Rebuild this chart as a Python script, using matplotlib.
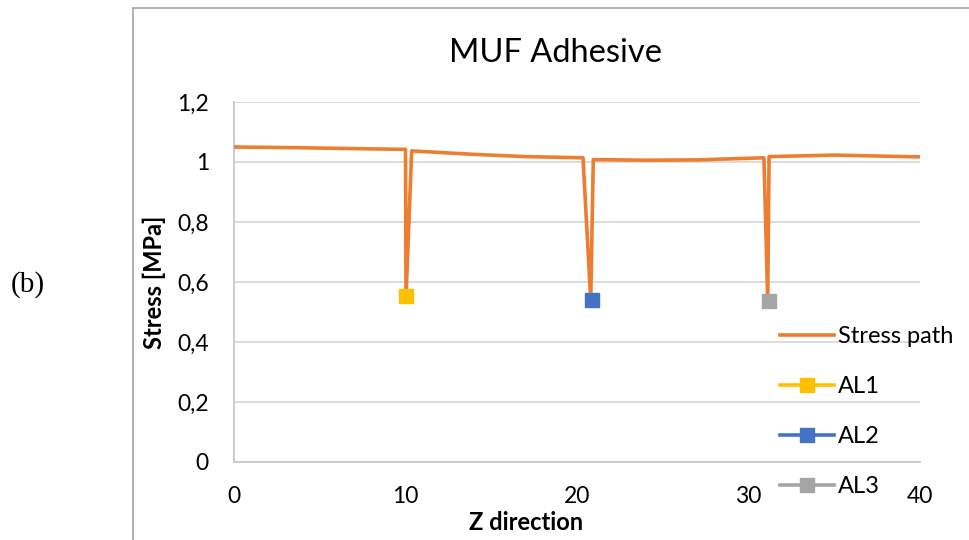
import matplotlib
matplotlib.use('Agg')
import matplotlib.pyplot as plt
from matplotlib.lines import Line2D

# stress path along z
z_path = [0, 3.3, 10.0, 10.03, 10.36, 13.8, 17.0, 20.35, 20.8, 20.95,
          24.0, 27.0, 30.9, 31.12, 31.2, 35.0, 40.0]
stress_path = [1.05, 1.048, 1.042, 0.553, 1.037, 1.026, 1.018, 1.014, 0.54, 1.008,
               1.006, 1.007, 1.014, 0.536, 1.018, 1.023, 1.017]

# adhesive layer points
al_names = ['AL1', 'AL2', 'AL3']
al_z = [10.03, 20.86, 31.18]
al_stress = [0.553, 0.54, 0.536]
al_colors = ['#FFC000', '#4472C4', '#A5A5A5']

y_ticks = [0, 0.2, 0.4, 0.6, 0.8, 1.0, 1.2]
y_tick_labels = ['0', '0,2', '0,4', '0,6', '0,8', '1', '1,2']
x_ticks = [0, 10, 20, 30, 40]

plt.rcParams['font.family'] = ['Lato', 'DejaVu Sans']

fig = plt.figure(figsize=(9.69, 5.4), dpi=100)
W, H = 969, 540
ax = fig.add_axes([234 / W, 1 - 462 / H, (920 - 234) / W, (462 - 102) / H])

ax.plot(z_path, stress_path, color='#ED7D31', lw=2.6, label='Stress path', zorder=3)
for name, z, s, c in zip(al_names, al_z, al_stress, al_colors):
    ax.plot([z], [s], color=c, lw=2.6, marker='s', ms=10.5, label=name, zorder=4)

ax.set_xlim(0, 40)
ax.set_ylim(0, 1.2)
ax.set_xticks(x_ticks)
ax.set_yticks(y_ticks)
ax.set_yticklabels(y_tick_labels)
ax.tick_params(length=0, labelsize=16.5, colors='#000000')
ax.tick_params(axis='x', pad=17)
ax.tick_params(axis='y', pad=18)
ax.grid(axis='y', color='#D9D9D9', lw=1.3)
for side in ['top', 'right']:
    ax.spines[side].set_visible(False)
for side in ['left', 'bottom']:
    ax.spines[side].set_color('#C8C8C8')
    ax.spines[side].set_linewidth(1.3)
ax.set_axisbelow(True)

leg = fig.legend(loc='upper left', bbox_to_anchor=(780 / W, 1 - 326 / H), frameon=False,
                 fontsize=17, handlelength=2.3, handletextpad=0.17, labelspacing=1.23,
                 borderaxespad=0, borderpad=0)

fig.text(555.5 / W, 1 - 53 / H, 'MUF Adhesive', fontsize=23.5, ha='center', va='center')
fig.text(154 / W, 1 - 282 / H, 'Stress [MPa]', fontsize=17, fontweight='bold',
         rotation=90, ha='center', va='center')
fig.text(526 / W, 1 - 523 / H, 'Z direction', fontsize=17, fontweight='bold',
         ha='center', va='center')
fig.text(28 / W, 1 - 285 / H, '(b)', fontsize=21, family='Liberation Serif',
         ha='center', va='center')

# chart frame (left and top edges)
fig.add_artist(Line2D([133 / W, 133 / W], [0, 1 - 8 / H], color='#A6A6A6', lw=1.2,
                      transform=fig.transFigure))
fig.add_artist(Line2D([133 / W, 1], [1 - 8 / H, 1 - 8 / H], color='#A6A6A6', lw=1.2,
                      transform=fig.transFigure))

fig.savefig('out.png', dpi=100)
